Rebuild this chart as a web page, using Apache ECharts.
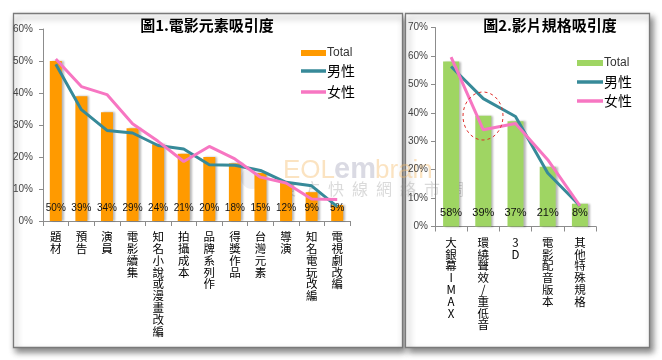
<!DOCTYPE html>
<html><head><meta charset="utf-8">
<script src="https://cdn.jsdelivr.net/npm/echarts@6/dist/echarts.min.js"></script>
<style>html,body{margin:0;padding:0;background:#fff;}#c{width:662px;height:360px;}</style>
</head><body><div id="c"></div>
<script>
const cats1 = ['題材','預告','演員','電影續集','知名小說或漫畫改編','拍攝成本','品牌系列作','得獎作品','台灣元素','導演','知名電玩改編','電視劇改編'];
const total1 = [50,39,34,29,24,21,20,18,15,12,9,5];
const male1 = [49,34.8,28.3,27.5,23.6,22.5,17.6,17.4,15.8,12.1,11,4.5];
const female1 = [50.6,42,39.5,30.4,24.9,18.6,23.3,19.4,13.7,11.9,6.9,6.7];
const cats2 = ['大銀幕IMAX','環繞聲效/重低音','3D','電影配音版本','其他特殊規格'];
const total2 = [58,39,37,21,8];
const male2 = [56.3,45,38.7,18.8,7.3];
const female2 = [59.6,34,36.2,23.5,7.3];
const title1 = '圖1.電影元素吸引度';
const title2 = '圖2.影片規格吸引度';

const chart = echarts.init(document.getElementById('c'), null, {renderer:'canvas'});
const CJK = '"Noto Sans CJK TC", "Noto Sans CJK SC", sans-serif';
const LAT = '"Liberation Sans", Arial, sans-serif';
const vert = v => v.split('').join('\n');
const axisGray = '#8c8c8c';
const TEAL = '#378a99', PINK = '#f776c2';

function xAxis(gi, data){
  return {type:'category', gridIndex:gi, data:data, boundaryGap:true,
    axisLine:{lineStyle:{color:axisGray}},
    axisTick:{show:true, length:5, lineStyle:{color:axisGray}},
    axisLabel:{interval:0, formatter:vert, color:'#000', fontFamily:CJK, fontSize:11.5, lineHeight:11.8, margin:10, verticalAlign:'top'}};
}
function yAxis(gi, max, margin){
  return {type:'value', gridIndex:gi, min:0, max:max, interval:10,
    axisLine:{show:true, lineStyle:{color:axisGray}},
    axisTick:{show:true, length:4, lineStyle:{color:axisGray}},
    splitLine:{show:false},
    axisLabel:{formatter:'{value}%', color:'#444', fontFamily:LAT, fontSize:10, margin:margin}};
}
const lbl = (fs, dist) => ({show:true, position:'insideBottom', distance:dist, formatter:p=>p.value+'%', color:'#111', fontFamily:'"Liberation Sans Narrow", "Liberation Sans", sans-serif', fontSize:fs});
const barShadow = {shadowColor:'rgba(0,0,0,0.28)', shadowBlur:2, shadowOffsetX:2, shadowOffsetY:0};
const legTotal = (left, top, name, w) => ({orient:'vertical', left:left, top:top, itemWidth:w, itemHeight:6, selectedMode:false,
  formatter:n=>n.trim(), textStyle:{fontFamily:LAT, fontSize:12, color:'#333', padding:[0,0,0,-4]},
  data:[{name:name, icon:'rect'}]});
const legLines = (left, top, names, w, gap) => ({orient:'vertical', left:left, top:top, itemWidth:w, itemHeight:3.5, itemGap:gap, selectedMode:false,
  formatter:n=>n.trim(), textStyle:{fontFamily:CJK, fontSize:14, color:'#000', padding:[0,0,0,-4]},
  data:names.map(n=>({name:n, icon:'rect'}))});

const option = {
  animation:false,
  backgroundColor:'#fff',
  grid:[
    {left:43, top:29, width:307, height:192},
    {left:435, top:27.5, width:161, height:199}
  ],
  xAxis:[xAxis(0,cats1), xAxis(1,cats2)],
  yAxis:[yAxis(0,60,10), yAxis(1,70,7)],
  legend:[
    legTotal(296, 42, 'Total', 25),
    legLines(296, 59, ['男性','女性'], 25, 7),
    legTotal(572, 52, 'Total ', 26),
    legLines(572, 70, ['男性 ','女性 '], 26, 5)
  ],
  series:[
    {name:'Total', type:'bar', xAxisIndex:0, yAxisIndex:0, data:total1, barWidth:12, itemStyle:Object.assign({color:'#ff9a00'},barShadow), label:lbl(10,8), z:2},
    {name:'男性', type:'line', xAxisIndex:0, yAxisIndex:0, data:male1, symbol:'none', lineStyle:{color:TEAL, width:3}, itemStyle:{color:TEAL}, z:3},
    {name:'女性', type:'line', xAxisIndex:0, yAxisIndex:0, data:female1, symbol:'none', lineStyle:{color:PINK, width:3}, itemStyle:{color:PINK}, z:3},
    {name:'Total ', type:'bar', xAxisIndex:1, yAxisIndex:1, data:total2, barWidth:16, itemStyle:Object.assign({color:'#9fd563'},barShadow), label:lbl(11,8), z:2},
    {name:'男性 ', type:'line', xAxisIndex:1, yAxisIndex:1, data:male2, symbol:'none', lineStyle:{color:TEAL, width:3}, itemStyle:{color:TEAL}, z:3},
    {name:'女性 ', type:'line', xAxisIndex:1, yAxisIndex:1, data:female2, symbol:'none', lineStyle:{color:PINK, width:3}, itemStyle:{color:PINK}, z:4}
  ],
  graphic:[
    {type:'rect', z:-10, silent:true, shape:{x:13.5,y:13.5,width:389,height:334}, style:{fill:'#fff', stroke:'#7a7a7a', lineWidth:1.3, shadowColor:'rgba(0,0,0,0.45)', shadowBlur:6, shadowOffsetX:2, shadowOffsetY:4}},
    {type:'rect', z:-10, silent:true, shape:{x:405.5,y:13.5,width:244,height:334}, style:{fill:'#fff', stroke:'#7a7a7a', lineWidth:1.3, shadowColor:'rgba(0,0,0,0.45)', shadowBlur:6, shadowOffsetX:3, shadowOffsetY:4}},
    {type:'text', z:-5, silent:true, x:283, y:158, style:{text:'EOL', font:'26px "Liberation Sans", sans-serif', fill:'rgba(245,185,100,0.4)'}},
    {type:'text', z:-5, silent:true, x:334, y:155, style:{text:'em', font:'bold 29px "Liberation Sans", sans-serif', fill:'rgba(150,150,175,0.35)'}},
    {type:'text', z:-5, silent:true, x:375, y:158, style:{text:'brain', font:'26px "Liberation Sans", sans-serif', fill:'rgba(245,185,100,0.4)'}},
    {type:'text', z:-5, silent:true, x:280, y:181, style:{text:'東\u2002方\u2002快\u2002線\u2002網\u2002絡\u2002市\u2002調', font:'16px "Noto Sans CJK TC", sans-serif', fill:'rgba(150,150,150,0.35)'}},
    {type:'circle', z:-5, silent:true, shape:{cx:252,cy:178,r:11}, style:{fill:'rgba(190,195,210,0.25)'}},
    {type:'text', z:10, silent:true, x:207, y:25, style:{text:title1, font:'bold 15px "Noto Sans CJK TC", sans-serif', fill:'#000', align:'center', verticalAlign:'middle'}},
    {type:'text', z:10, silent:true, x:550, y:25, style:{text:title2, font:'bold 15px "Noto Sans CJK TC", sans-serif', fill:'#000', align:'center', verticalAlign:'middle'}},
    {type:'ellipse', z:10, silent:true, shape:{cx:483, cy:116, rx:20, ry:24}, style:{fill:'none', stroke:'#e0302c', lineWidth:1, lineDash:[3,3]}}
  ]
};
chart.setOption(option);
</script></body></html>
